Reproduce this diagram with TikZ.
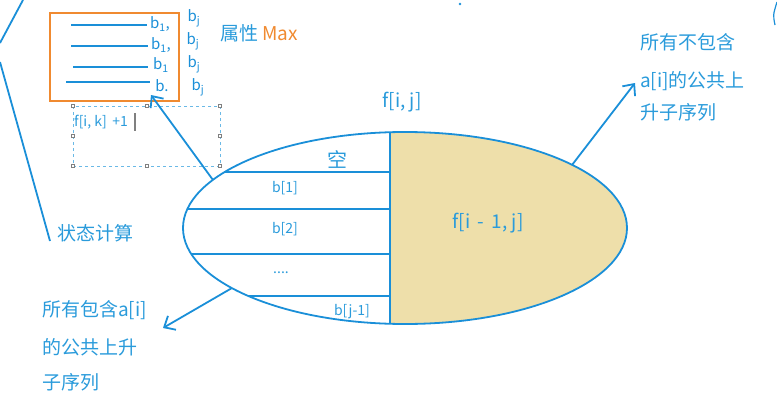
\documentclass[tikz,border=0pt]{standalone}
\usepackage{fontspec}
\setmainfont{Noto Sans CJK SC}
\usetikzlibrary{arrows.meta}
\definecolor{lblue}{HTML}{1A8FD8}
\definecolor{tblue}{HTML}{2A9BDB}
\definecolor{orng}{HTML}{F08A30}
\definecolor{tan}{HTML}{EEDFAA}
\tikzset{
  ln/.style={draw=lblue, line width=1.8pt},
  txt/.style={text=tblue, inner sep=0pt, font=\fontsize{19}{19}\selectfont},
  small/.style={text=tblue, inner sep=0pt, font=\fontsize{14}{14}\selectfont},
  hand/.style={text=lblue, inner sep=0pt, font=\fontsize{15}{15}\selectfont},
  barb/.style={-{Straight Barb[length=9pt,width=16pt]}},
  handle/.style={draw=gray, fill=white, line width=0.5pt, minimum size=3pt, inner sep=0pt},
}
\begin{document}
\begin{tikzpicture}[x=1pt,y=-1pt]
\useasboundingbox (0,0) rectangle (777,407);
% ellipse
\coordinate (C) at (405,228);
\begin{scope}
  \clip (390,0) rectangle (777,407);
  \fill[tan] (C) ellipse [x radius=222pt, y radius=96pt];
\end{scope}
\draw[ln] (C) ellipse [x radius=222pt, y radius=96pt];
\coordinate (dt) at (390,132.2);
\coordinate (db) at (390,323.8);
\draw[ln] (dt) -- (db);
\coordinate (h1a) at (224.7,172); \coordinate (h1b) at (390,172);
\coordinate (h2a) at (187.4,209); \coordinate (h2b) at (390,209);
\coordinate (h3a) at (191.3,254); \coordinate (h3b) at (390,254);
\coordinate (h4a) at (248.3,296); \coordinate (h4b) at (390,296);
\draw[ln] (h1a) -- (h1b);
\draw[ln] (h2a) -- (h2b);
\draw[ln] (h3a) -- (h3b);
\draw[ln] (h4a) -- (h4b);
\node[txt, font=\fontsize{20}{20}\selectfont] (kong) at (337,159) {空};
\node[small] (b1) at (285,188) {b[1]};
\node[small] (b2) at (285,229) {b[2]};
\node[small] (dots) at (281,273) {....};
\node[small] (bj) at (352,312) {b[j-1]};
\node[txt, font=\fontsize{19}{19}\selectfont] (fij) at (402,102) {f[i, j]};
\node[txt, font=\fontsize{19}{19}\selectfont] (fi1j) at (488,223) {f[i\, -\, 1, j]};
% right text and arrow
\node[txt, anchor=west] (r1) at (640,42) {所有不包含};
\node[txt, anchor=west] (r2) at (640,81) {a[i]的公共上};
\node[txt, anchor=west] (r3) at (640,112) {升子序列};
\coordinate (ra) at (572,165);
\coordinate (rb) at (635,83);
\draw[ln, barb] (ra) -- (rb);
% left bottom text and arrow
\node[txt, anchor=west] (l1) at (42,310) {所有包含a[i]};
\node[txt, anchor=west] (l2) at (42,347) {的公共上升};
\node[txt, anchor=west] (l3) at (42,382) {子序列};
\coordinate (la) at (232,288);
\coordinate (lb) at (163,328);
\draw[ln, barb] (la) -- (lb);
% state computation
\node[txt, anchor=west] (zt) at (57,233) {状态计算};
\coordinate (k1) at (23,0); \coordinate (k2) at (0,43);
\coordinate (k3) at (0,62); \coordinate (k4) at (50,241);
\draw[ln] (k1) -- (k2);
\draw[ln] (k3) -- (k4);
% orange box
\draw[draw=orng, line width=2pt] (50,13) rectangle (179,101);
\draw[draw=lblue, line width=2pt] (71,25) -- (147,25);
\draw[draw=lblue, line width=2pt] (71,46) -- (148,46);
\draw[draw=lblue, line width=2pt] (73,67) -- (148,67);
\draw[draw=lblue, line width=2pt] (66,82) -- (150,82);
\node[hand] (hb1) at (160,24) {b\textsubscript{1},};
\node[hand] (hb2) at (161,45) {b\textsubscript{1},};
\node[hand] (hb3) at (161,65) {b\textsubscript{1}};
\node[hand] (hb4) at (162,86) {b.};
\node[hand] (hj1) at (194,18) {b\textsubscript{j}};
\node[hand] (hj2) at (193,41) {b\textsubscript{j}};
\node[hand] (hj3) at (194,64) {b\textsubscript{j}};
\node[hand] (hj4) at (198,87) {b\textsubscript{j}};
\node[txt, anchor=west] (attr) at (220,33) {属性 \textcolor{orng}{Max}};
% dashed selection box
\draw[draw=tblue!70, dashed, line width=0.7pt] (73,106) rectangle (220,166);
\foreach \p/\n in {{73,106}/a,{147,106}/b,{220,106}/c,{73,136}/d,{220,136}/e,{73,166}/f,{147,166}/g,{220,166}/h}
  \node[handle] (hd\n) at (\p) {};
\node[small, anchor=west] (fik) at (74,122) {f[i, k] \,+1};
\draw[gray, line width=1.2pt] (135,113) -- (135,131);
% arrow to box
\coordinate (ua) at (213,180);
\coordinate (ub) at (151,95);
\draw[ln, barb] (ua) -- (ub);
% small marks
\fill[lblue] (460,4) circle (1.3pt);
\draw[ln, line width=1.2pt] (777,2) .. controls (773,15) .. (775,25);
\end{tikzpicture}
\end{document}
